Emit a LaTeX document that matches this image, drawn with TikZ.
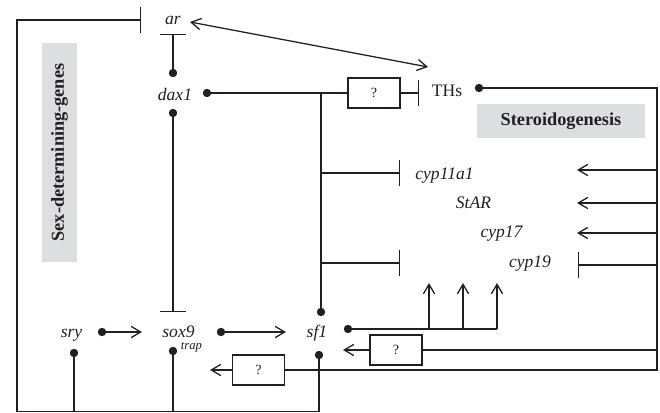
\documentclass[tikz,border=0pt]{standalone}
\usepackage{fontspec}
\setmainfont{Liberation Serif}
\usetikzlibrary{arrows.meta}
\definecolor{ink}{RGB}{35,31,32}
\definecolor{groupgrey}{RGB}{221,222,223}
\newcommand{\genefont}{\fontsize{12.5}{15}\selectfont\itshape}

\begin{document}
\begin{tikzpicture}[
  x=0.025cm,
  y=-0.025cm,
  line join=miter,
  gene/.style={
    font=\genefont,
    text=ink,
    anchor=base,
    inner sep=0pt
  },
  dot/.style={
    circle,
    fill=ink,
    inner sep=0pt,
    minimum size=2.1mm
  },
  unknown/.style={
    draw=ink,
    line width=0.9pt,
    minimum width=1.3cm,
    minimum height=0.75cm,
    inner sep=0pt,
    font=\fontsize{10}{12}\selectfont,
    text=ink
  },
  groupbox/.style={
    fill=groupgrey,
    inner sep=0pt,
    font=\fontsize{13}{15}\selectfont\bfseries,
    text=ink
  },
  link/.style={
    draw=ink,
    line width=0.9pt
  },
  activate/.style={
    link,
    -{Straight Barb[length=2.4mm,width=2.8mm]}
  },
  inhibit/.style={
    link,
    -{Bar[width=6.5mm]}
  }
]
\useasboundingbox (0,0) rectangle (660,413);

% ---------------------------------------------------------------------------
% Group labels.
% ---------------------------------------------------------------------------
\node[groupbox,minimum width=4.2cm,minimum height=0.85cm]
  (steroid) at (561,121) {Steroidogenesis};
\node[groupbox,rotate=90,minimum width=5.475cm,minimum height=0.875cm]
  (sexdet) at (59.5,152.5) {Sex-determining-genes};

% ---------------------------------------------------------------------------
% Genes, hormones and unknown steps.
% ---------------------------------------------------------------------------
\node[gene] (ar) at (173,25) {ar};
\node[gene] (dax1) at (175,101) {dax1};
\node[gene,font=\fontsize{12.5}{15}\selectfont] (ths) at (447,97) {THs};
\node[gene] (cyp11a1) at (444.5,180) {cyp11a1};
\node[gene] (star) at (473.5,209) {StAR};
\node[gene] (cyp17) at (501.5,238) {cyp17};
\node[gene] (cyp19) at (530,268) {cyp19};
\node[gene] (sry) at (71.5,338) {sry};
\node[gene] (sox9) at (178.5,338) {sox9};
\node[gene,font=\fontsize{9}{11}\selectfont\itshape] (trap) at (191.5,350) {trap};
\node[gene] (sf1) at (317,338) {sf1};

\node[unknown] (q1) at (374,93) {?};
\node[unknown] (q2) at (396,350) {?};
\node[unknown] (q3) at (258.5,370) {?};

% Output dots.
\node[dot] (dax1top) at (173,73) {};
\node[dot] (dax1dot) at (207,93) {};
\node[dot] (dax1bottom) at (173,113) {};
\node[dot] (thsdot) at (479,88) {};
\node[dot] (sf1top) at (321,312) {};
\node[dot] (sf1dot) at (348,329) {};
\node[dot] (sf1bottom) at (319,355) {};
\node[dot] (srydot) at (102,332) {};
\node[dot] (srybottom) at (74,353) {};
\node[dot] (sox9dot) at (221,332) {};
\node[dot] (sox9bottom) at (173,351) {};

% ---------------------------------------------------------------------------
% Sex-determining cascade.
% ---------------------------------------------------------------------------
\coordinate (arunder) at (173,34);
\coordinate (sox9in) at (142,332);
\coordinate (sf1in) at (286,332);
\coordinate (sox9top) at (173,312);

\draw[inhibit] (dax1top) -- (arunder);
\draw[inhibit] (dax1bottom) -- (sox9top);
\draw[activate] (srydot) -- (sox9in);
\draw[activate] (sox9dot) -- (sf1in);

% Feedback of sry, sox9 and sf1 onto ar, round the outer frame.
\coordinate (loopA) at (74,411.5);
\coordinate (loopB) at (173,411.5);
\coordinate (loopC) at (319,411.5);
\coordinate (loopSW) at (17,411.5);
\coordinate (loopNW) at (17,20);
\coordinate (arbar) at (141,20);

\draw[inhibit] (sf1bottom) -- (loopC) -- (loopSW) -- (loopNW) -- (arbar);
\draw[link] (srybottom) -- (loopA);
\draw[link] (sox9bottom) -- (loopB);

% ar and THs act on each other.
\coordinate (arin) at (190,22);
\coordinate (thsin) at (428,67);
\draw[link,{Straight Barb[length=2.4mm,width=2.8mm]}-{Straight Barb[length=2.4mm,width=2.8mm]}]
  (arin) -- (thsin);

% ---------------------------------------------------------------------------
% dax1 and sf1 onto steroidogenesis.
% ---------------------------------------------------------------------------
\coordinate (split) at (321,93);
\coordinate (thsbar) at (419,93);
\coordinate (splitA) at (321,173);
\coordinate (barA) at (400,173);
\coordinate (splitB) at (321,263);
\coordinate (barB) at (400,263);

\draw[link] (dax1dot) -- (q1);
\draw[inhibit] (q1) -- (thsbar);
\draw[link] (split) -- (sf1top);
\draw[inhibit] (splitA) -- (barA);
\draw[inhibit] (splitB) -- (barB);

\coordinate (fork3) at (497,329);
\draw[link] (sf1dot) -- (fork3);
\foreach \i/\x in {1/429,2/463,3/497} {
  \coordinate (fork\i) at (\x,329);
  \coordinate (up\i) at (\x,283);
  \draw[activate] (fork\i) -- (up\i);
}

% ---------------------------------------------------------------------------
% THs feedback along the right side.
% ---------------------------------------------------------------------------
\coordinate (rtop) at (657,88);
\coordinate (rbottom) at (657,370);
\coordinate (sox9back) at (210,370);
\coordinate (rsf1) at (657,350);
\coordinate (sf1back) at (343,350);

\draw[link] (thsdot) -- (rtop) -- (rbottom) -- (q3);
\draw[activate] (q3) -- (sox9back);
\draw[link] (rsf1) -- (q2);
\draw[activate] (q2) -- (sf1back);

\foreach \name/\y in {cypA/170,stara/203,cypB/233} {
  \coordinate (r\name) at (657,\y);
  \coordinate (h\name) at (577,\y);
  \draw[activate] (r\name) -- (h\name);
}
\coordinate (rcyp19) at (657,265);
\coordinate (cyp19bar) at (578,265);
\draw[inhibit] (rcyp19) -- (cyp19bar);

\end{tikzpicture}
\end{document}
